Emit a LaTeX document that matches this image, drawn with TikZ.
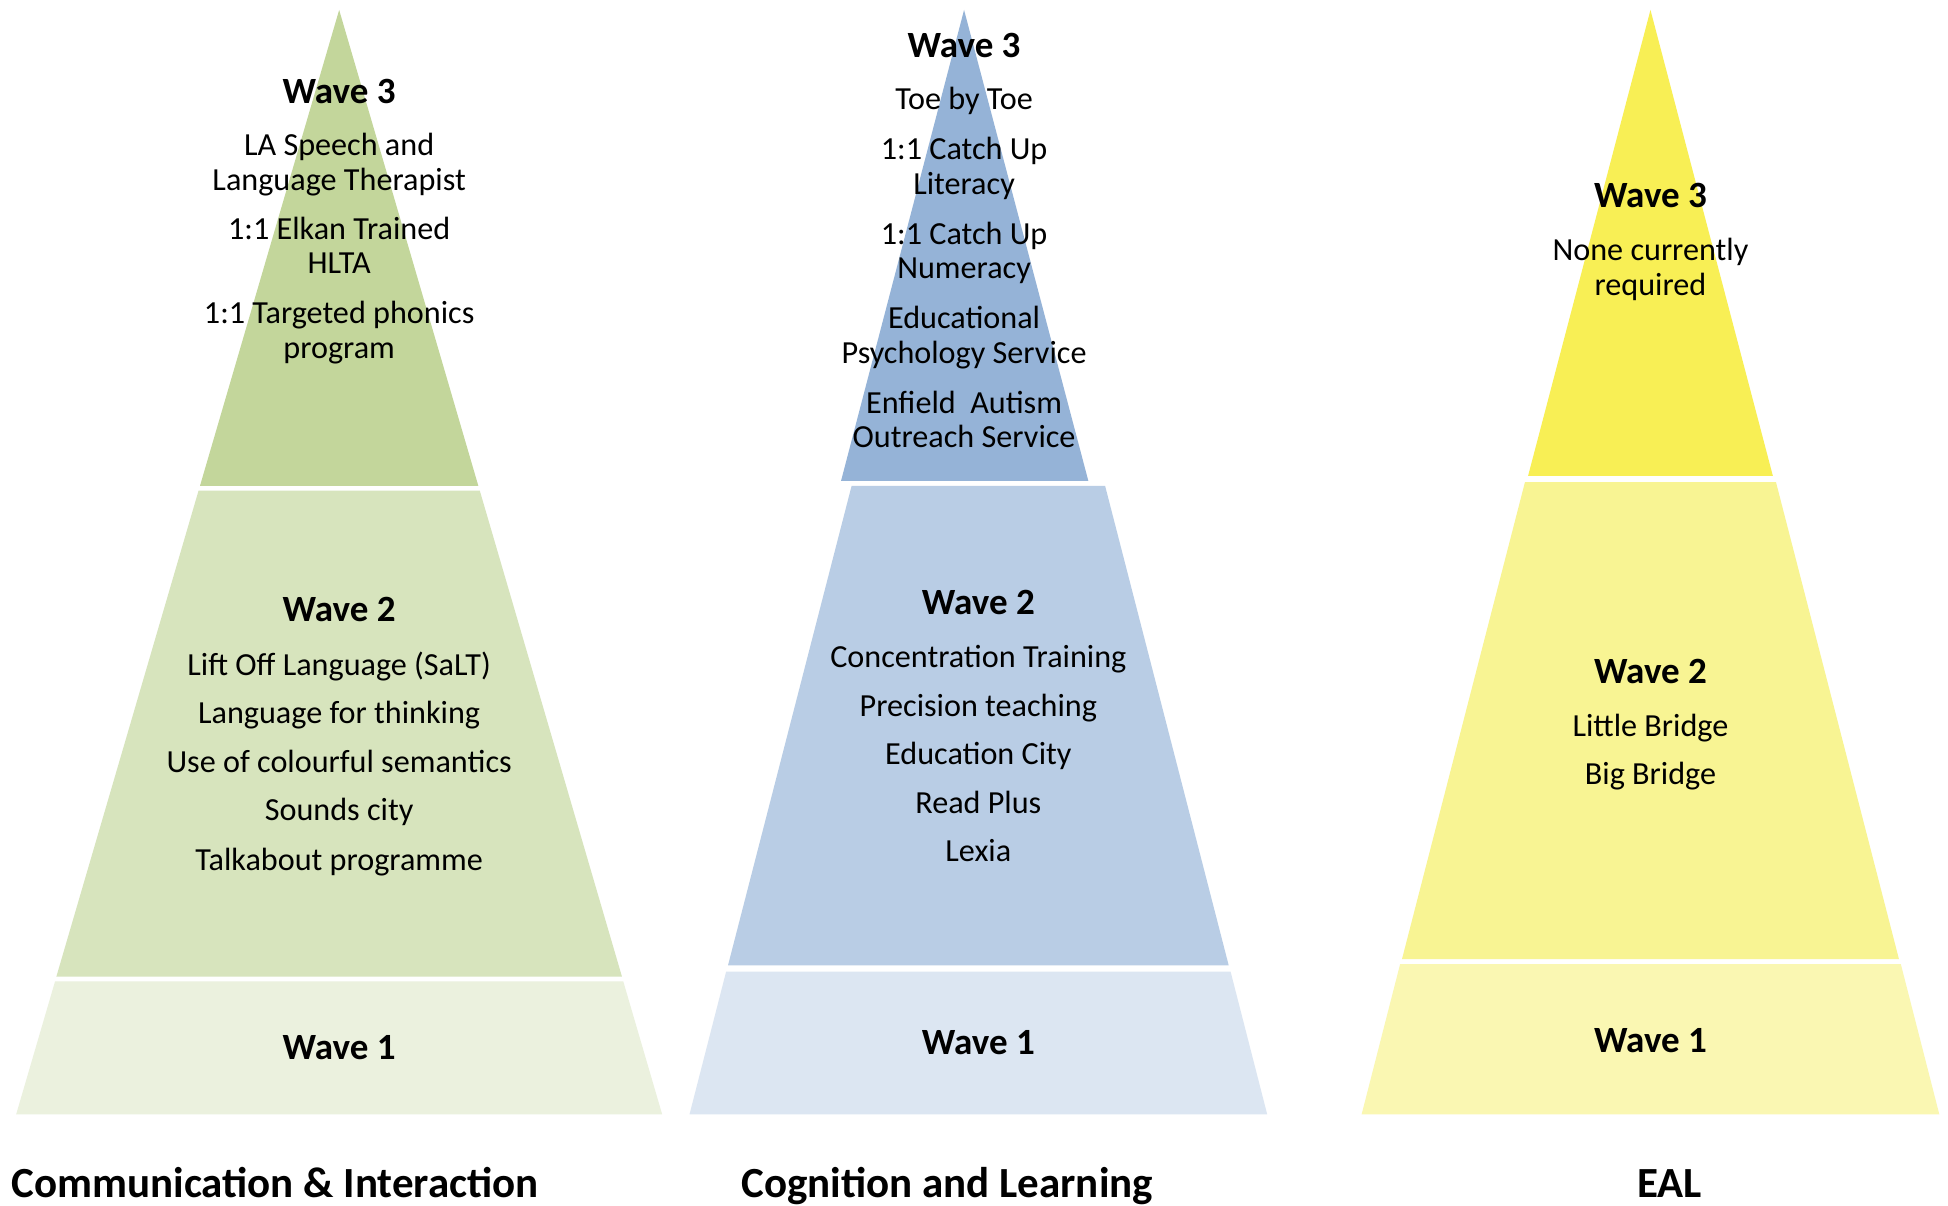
\documentclass[tikz,border=0pt]{standalone}
\usepackage{fontspec}
\setmainfont{Carlito}
\definecolor{gA}{HTML}{C3D69B}
\definecolor{gB}{HTML}{D7E4BD}
\definecolor{gC}{HTML}{EBF1DE}
\definecolor{bA}{HTML}{95B3D7}
\definecolor{bB}{HTML}{B9CDE5}
\definecolor{bC}{HTML}{DCE6F2}
\definecolor{yA}{HTML}{F8EF55}
\definecolor{yB}{HTML}{F8F493}
\definecolor{yC}{HTML}{FAF7B2}
\tikzset{
  body/.style={anchor=base,inner sep=0pt,font=\fontsize{25.9}{28}\selectfont},
  wavetitle/.style={anchor=base,inner sep=0pt,font=\fontsize{29.8}{31}\selectfont\bfseries},
  pyrlabel/.style={anchor=base,inner sep=0pt,font=\fontsize{34.6}{40}\selectfont\bfseries},
}
\begin{document}
\begin{tikzpicture}[x=1pt,y=-1pt]
\useasboundingbox[fill=white] (0,0) rectangle (1568,970);
% Green pyramid
\fill[gA] (273,8) -- (385,391) -- (161,391) -- cycle;
\fill[gB] (159.8,395) -- (386.2,395) -- (500.6,786) -- (45.4,786) -- cycle;
\fill[gC] (44.3,790) -- (501.7,790) -- (533,897) -- (13,897) -- cycle;
% Blue pyramid
\fill[bA] (776,8) -- (876,387) -- (677,387) -- cycle;
\fill[bB] (685.5,391) -- (889.5,391) -- (989,777) -- (586,777) -- cycle;
\fill[bC] (584.5,782) -- (990.5,782) -- (1020,897) -- (555,897) -- cycle;
% Yellow pyramid
\fill[yA] (1328.5,8) -- (1427,383) -- (1230,383) -- cycle;
\fill[yB] (1227.5,388) -- (1429.5,388) -- (1528.5,772) -- (1128.5,772) -- cycle;
\fill[yC] (1127,776) -- (1530,776) -- (1561,897) -- (1096,897) -- cycle;

% Green texts
\node[wavetitle] (g3t) at (273,83) {Wave 3};
\node[body] (g3a) at (273,125.5) {LA Speech and};
\node[body] (g3b) at (273,153.5) {Language Therapist};
\node[body] (g3c) at (273,192.5) {1:1 Elkan Trained};
\node[body] (g3d) at (273,220.5) {HLTA};
\node[body] (g3e) at (273,260.5) {1:1 Targeted phonics};
\node[body] (g3f) at (273,288.5) {program};
\node[wavetitle] (g2t) at (273,500) {Wave 2};
\node[body] (g2a) at (273,543.5) {Lift Off Language (SaLT)};
\node[body] (g2b) at (273,582.5) {Language for thinking};
\node[body] (g2c) at (273,621.5) {Use of colourful semantics};
\node[body] (g2d) at (273,660.5) {Sounds city};
\node[body] (g2e) at (273,700.5) {Talkabout programme};
\node[wavetitle] (g1t) at (273,853) {Wave 1};

% Blue texts
\node[wavetitle] (b3t) at (776,46) {Wave 3};
\node[body] (b3a) at (776,88.5) {Toe by Toe};
\node[body] (b3b) at (776,128.5) {1:1 Catch Up};
\node[body] (b3c) at (776,156.5) {Literacy};
\node[body] (b3d) at (776,196.5) {1:1 Catch Up};
\node[body] (b3e) at (776,224.5) {Numeracy};
\node[body] (b3f) at (776,264.5) {Educational};
\node[body] (b3g) at (776,292.5) {Psychology Service};
\node[body] (b3h) at (776,332.5) {Enfield\ \ Autism};
\node[body] (b3i) at (776,360.5) {Outreach Service};
\node[wavetitle] (b2t) at (787.5,495) {Wave 2};
\node[body] (b2a) at (787.5,537.5) {Concentration Training};
\node[body] (b2b) at (787.5,576.5) {Precision teaching};
\node[body] (b2c) at (787.5,615.5) {Education City};
\node[body] (b2d) at (787.5,654.5) {Read Plus};
\node[body] (b2e) at (787.5,693.5) {Lexia};
\node[wavetitle] (b1t) at (787.5,849) {Wave 1};

% Yellow texts
\node[wavetitle] (y3t) at (1328.5,167) {Wave 3};
\node[body] (y3a) at (1328.5,209.5) {None currently};
\node[body] (y3b) at (1328.5,237.5) {required};
\node[wavetitle] (y2t) at (1328.5,550) {Wave 2};
\node[body] (y2a) at (1328.5,592.5) {Little Bridge};
\node[body] (y2b) at (1328.5,631.5) {Big Bridge};
\node[wavetitle] (y1t) at (1328.5,847) {Wave 1};

% Bottom labels
\node[pyrlabel] (lab1) at (221.5,963.5) {Communication \& Interaction};
\node[pyrlabel] (lab2) at (762.5,963.5) {Cognition and Learning};
\node[pyrlabel] (lab3) at (1344,963.5) {EAL};
\end{tikzpicture}
\end{document}
